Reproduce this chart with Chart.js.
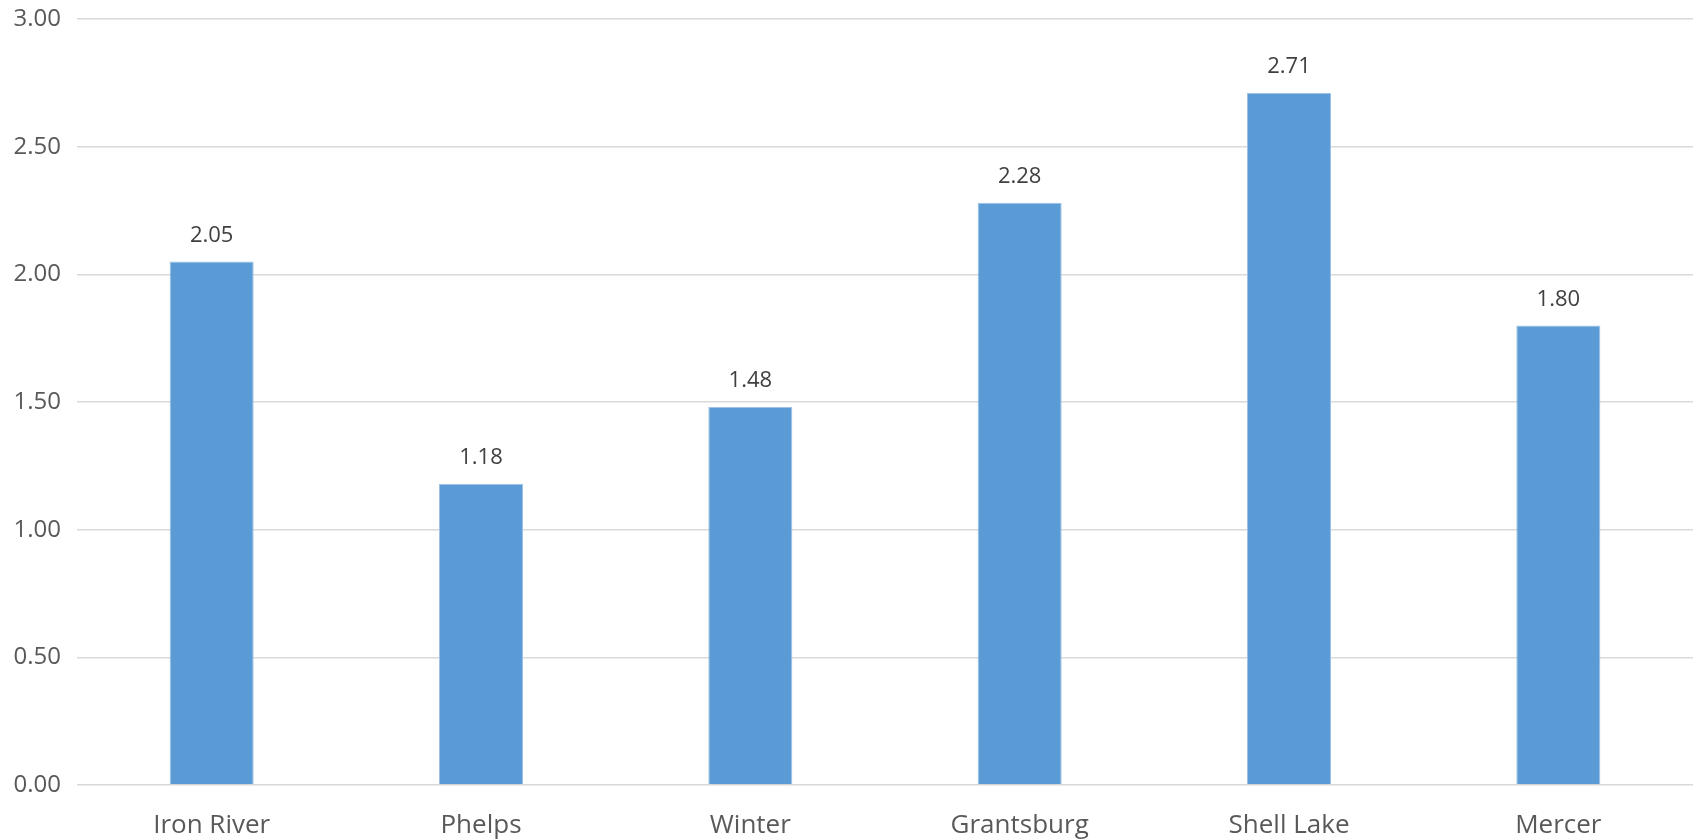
<!DOCTYPE html>
<html>
<head>
<meta charset="utf-8">
<script src="https://cdn.jsdelivr.net/npm/chart.js@4"></script>
<style>
  html, body { margin: 0; padding: 0; background: #fff; }
  #wrap { width: 1698px; height: 839px; }
</style>
</head>
<body>
<div id="wrap"><canvas id="barChart" width="1698" height="839"></canvas></div>
<script>
// Категории и значения
const towns = ['Iron River', 'Phelps', 'Winter', 'Grantsburg', 'Shell Lake', 'Mercer'];
const values = [2.05, 1.18, 1.48, 2.28, 2.71, 1.80];
const yTicks = [0, 0.5, 1, 1.5, 2, 2.5, 3];

// Подписи значений над столбцами
const valueLabels = {
    id: 'valueLabels',
    afterDatasetsDraw(chart) {
        const c = chart.ctx;
        const meta = chart.getDatasetMeta(0);
        c.save();
        c.fillStyle = '#404040';
        c.font = '22px "Open Sans"';
        c.textAlign = 'center';
        c.textBaseline = 'middle';
        meta.data.forEach((bar, i) => {
            c.fillText(values[i].toFixed(2), bar.x, bar.y - 26);
        });
        c.restore();
    }
};

const ctx = document.getElementById('barChart').getContext('2d');

const chart = new Chart(ctx, {
    type: 'bar',
    data: {
        labels: towns,
        datasets: [{
            data: values,
            backgroundColor: '#5B9BD5',
            borderColor: '#9DC3E6',
            borderWidth: 1,
            categoryPercentage: 1,
            barPercentage: 0.312
        }]
    },
    options: {
        responsive: false,
        animation: false,
        layout: { padding: { top: 19, right: 5, left: 0, bottom: 0 } },
        plugins: {
            legend: { display: false },
            tooltip: { enabled: false }
        },
        scales: {
            x: {
                grid: { display: false, drawTicks: false },
                border: { display: false },
                ticks: {
                    color: '#595959',
                    font: { family: 'Open Sans', size: 26 },
                    padding: 25
                },
                afterFit(scale) { scale.height = 54; }
            },
            y: {
                min: 0,
                max: 3,
                afterBuildTicks(scale) { scale.ticks = yTicks.map(v => ({ value: v })); },
                grid: { color: '#D9D9D9', lineWidth: 1.5, drawTicks: false },
                border: { display: false },
                ticks: {
                    color: '#595959',
                    font: { family: 'Open Sans', size: 24 },
                    padding: 16,
                    callback: v => v.toFixed(2)
                },
                afterFit(scale) {
                    scale.width = 77;
                    scale.paddingTop = 0;
                    scale.paddingBottom = 0;
                }
            }
        }
    },
    plugins: [valueLabels]
});
</script>
</body>
</html>
